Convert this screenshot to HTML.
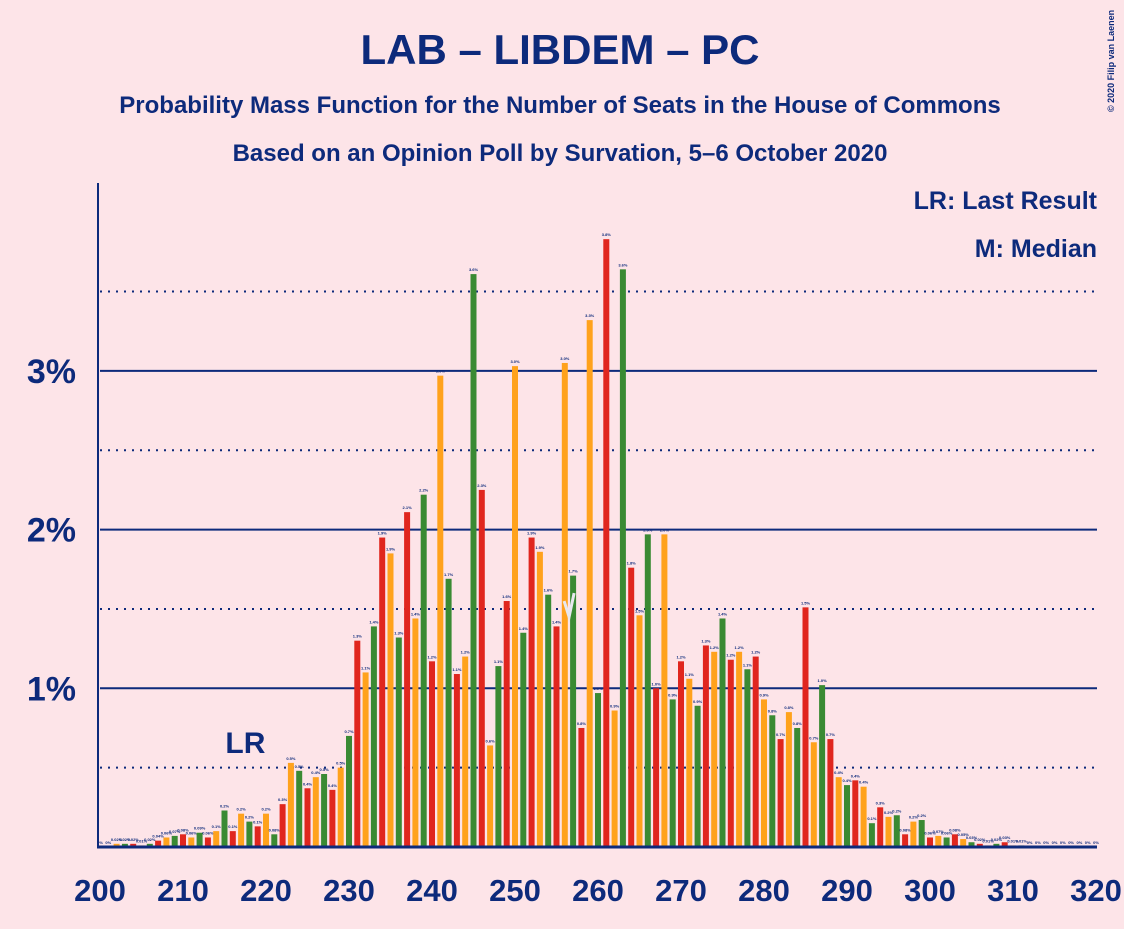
<!DOCTYPE html>
<html><head><meta charset="utf-8"><style>
body{margin:0;background:#fde4e8;font-family:"Liberation Sans",sans-serif;}
svg text{font-family:"Liberation Sans",sans-serif;font-weight:bold;fill:#0d2a7b;}
</style></head><body>
<svg id="c" width="1124" height="924" xmlns="http://www.w3.org/2000/svg">
<rect width="1124" height="924" fill="#fde4e8"/>
<text x="560" y="64" font-size="42" text-anchor="middle">LAB – LIBDEM – PC</text>
<text x="560" y="113" font-size="24" text-anchor="middle">Probability Mass Function for the Number of Seats in the House of Commons</text>
<text x="560" y="161" font-size="24" text-anchor="middle">Based on an Opinion Poll by Survation, 5–6 October 2020</text>
<text x="1097" y="209" font-size="25" text-anchor="end">LR: Last Result</text>
<text x="1097" y="257" font-size="25" text-anchor="end">M: Median</text>
<text transform="translate(1114,112) rotate(-90)" font-size="9" font-weight="normal">© 2020 Filip van Laenen</text>
<g id="grid"></g><g id="bars"></g><g id="axes"></g>
</svg>
<script>
const seats=[];for(let s=200;s<=320;s++)seats.push(s);
const probs=[0,0,0.02,0.02,0.02,0.01,0.02,0.04,0.06,0.07,0.08,0.06,0.09,0.06,0.1,0.23,0.1,0.21,0.16,0.13,0.21,0.08,0.27,0.53,0.48,0.37,0.44,0.46,0.36,0.5,0.7,1.3,1.1,1.39,1.95,1.85,1.32,2.11,1.44,2.22,1.17,2.97,1.69,1.09,1.2,3.61,2.25,0.64,1.14,1.55,3.03,1.35,1.95,1.86,1.59,1.39,3.05,1.71,0.75,3.32,0.97,3.83,0.86,3.64,1.76,1.46,1.97,1.0,1.97,0.93,1.17,1.06,0.89,1.27,1.23,1.44,1.18,1.23,1.12,1.2,0.93,0.83,0.68,0.85,0.75,1.51,0.66,1.02,0.68,0.44,0.39,0.42,0.38,0.15,0.25,0.19,0.2,0.08,0.16,0.17,0.06,0.07,0.06,0.08,0.05,0.03,0.02,0.01,0.02,0.03,0.01,0.01,0,0,0,0,0,0,0,0,0];
const xTicks=[200,210,220,230,240,250,260,270,280,290,300,310,320];
const yTicks=[1,2,3];
const yMinor=[0.5,1.5,2.5,3.5];
const lastResult=218, median=257;
const NS="http://www.w3.org/2000/svg";
const X=s=>100+(s-200)*8.3, Y=v=>847-v*158.7;
function mk(t,a,p){const e=document.createElementNS(NS,t);for(const k in a)e.setAttribute(k,a[k]);p.appendChild(e);return e;}
const g=document.getElementById('grid'),b=document.getElementById('bars'),ax=document.getElementById('axes');
yMinor.forEach(v=>{const l=mk('line',{x1:100,x2:1097,y1:Y(v),y2:Y(v),stroke:'#0d2a7b','stroke-width':2,'stroke-dasharray':'2,6'},g);

});
yTicks.forEach(v=>{const l=mk('line',{x1:100,x2:1097,y1:Y(v),y2:Y(v),stroke:'#0d2a7b','stroke-width':2},g);


const t=mk('text',{x:76,y:Y(v)+12,'font-size':34,'text-anchor':'end'},ax);t.textContent=v+'%';

});
const cols=['#e0261e','#ffa21c','#3a8a33'];
seats.forEach((s,i)=>{const v=probs[i];const h=v*158.7;
const r=mk('rect',{x:X(s)-3,y:Y(v),width:6,height:h,fill:cols[s%3]},b);


const t=mk('text',{x:X(s),y:Y(v)-3,'font-size':4,'text-anchor':'middle','font-weight':'normal'},b);t.textContent=(v>=0.1?v.toFixed(1):v>0?v.toFixed(2):'0')+'%';

});
const lr=mk('text',{x:X(lastResult)-24,y:753,'font-size':30},ax);lr.textContent='LR';


const m=mk('polyline',{points:`${X(median)-9},${Y(1.55)} ${X(median)-4},${Y(1.45)} ${X(median)+1},${Y(1.6)}`,fill:'none',stroke:'#e8e8ee','stroke-width':3},ax);


const ya=mk('line',{x1:98,x2:98,y1:183,y2:848,stroke:'#0d2a7b','stroke-width':2},ax);


const xa=mk('line',{x1:97,x2:1097,y1:847,y2:847,stroke:'#0d2a7b','stroke-width':3},ax);


xTicks.forEach(s=>{const t=mk('text',{x:X(s),y:901,'font-size':31,'text-anchor':'middle'},ax);t.textContent=s;

});
</script>
</body></html>
